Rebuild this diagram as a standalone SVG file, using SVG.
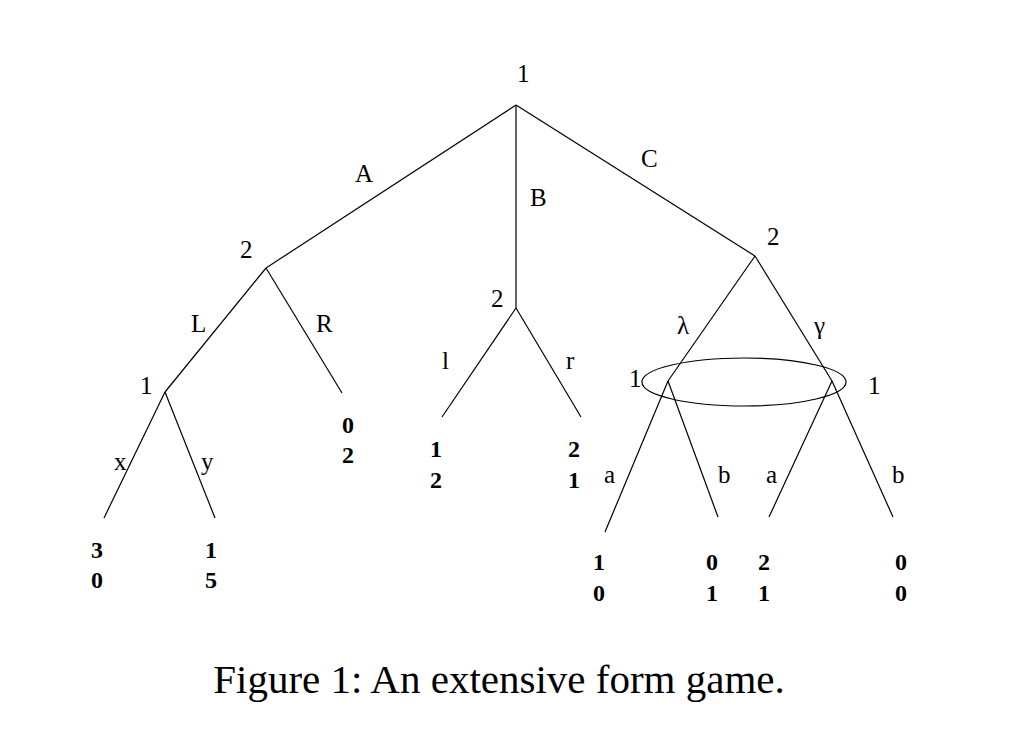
<svg xmlns="http://www.w3.org/2000/svg" width="1024" height="731" viewBox="0 0 1024 731">
<style>
text{font-family:"Liberation Serif","Times New Roman",serif;font-size:25px;fill:#000}
.p{font-weight:bold;font-size:24px;text-anchor:middle}
.e line{stroke:#000;stroke-width:1.2}
</style>
<rect width="1024" height="731" fill="#fff"/>
<g id="edges" class="e">
<line x1="516" y1="105" x2="266" y2="268"/>
<line x1="516" y1="105" x2="516" y2="308"/>
<line x1="516" y1="105" x2="755" y2="256"/>
<line x1="266" y1="268" x2="165" y2="392"/>
<line x1="266" y1="268" x2="342" y2="393"/>
<line x1="165" y1="392" x2="104" y2="518"/>
<line x1="165" y1="392" x2="215" y2="518"/>
<line x1="516" y1="308" x2="442" y2="417"/>
<line x1="516" y1="308" x2="581" y2="417"/>
<line x1="755" y1="256" x2="668" y2="381"/>
<line x1="755" y1="256" x2="832" y2="381"/>
<line x1="668" y1="381" x2="605" y2="532"/>
<line x1="668" y1="381" x2="718" y2="517"/>
<line x1="832" y1="381" x2="769" y2="517"/>
<line x1="832" y1="381" x2="893" y2="517"/>
<ellipse cx="744" cy="382" rx="102" ry="24" fill="none" stroke="#000" stroke-width="1.2"/>
</g>
<g id="n-root"><text x="517" y="82">1</text></g>
<g id="n-A"><text x="240" y="258">2</text></g>
<g id="n-B"><text x="491" y="307">2</text></g>
<g id="n-C"><text x="767" y="245">2</text></g>
<g id="n-L"><text x="140" y="394">1</text></g>
<g id="n-info"><text x="629" y="387">1</text><text x="868" y="394">1</text></g>
<g id="labels">
<text x="355" y="182">A</text><text x="530" y="206">B</text><text x="641" y="167">C</text>
<text x="191" y="332">L</text><text x="316" y="332">R</text>
<text x="442" y="369">l</text><text x="566" y="369">r</text>
<text x="114" y="470">x</text><text x="201" y="470">y</text>
<text x="677" y="334">λ</text><text x="814" y="334">γ</text>
<text x="604" y="483">a</text><text x="718" y="483">b</text><text x="766" y="483">a</text><text x="892" y="483">b</text>
</g>
<g id="payoffs">
<text class="p" x="97" y="558">3</text><text class="p" x="97" y="588">0</text>
<text class="p" x="211" y="558">1</text><text class="p" x="211" y="588">5</text>
<text class="p" x="348" y="433">0</text><text class="p" x="348" y="463">2</text>
<text class="p" x="436" y="457">1</text><text class="p" x="436" y="488">2</text>
<text class="p" x="574" y="457">2</text><text class="p" x="574" y="488">1</text>
<text class="p" x="599" y="570">1</text><text class="p" x="599" y="601">0</text>
<text class="p" x="712" y="570">0</text><text class="p" x="712" y="601">1</text>
<text class="p" x="764" y="570">2</text><text class="p" x="764" y="601">1</text>
<text class="p" x="901" y="570">0</text><text class="p" x="901" y="601">0</text>
</g>
<text x="499" y="693" style="font-size:41px;text-anchor:middle">Figure 1: An extensive form game.</text>
</svg>
